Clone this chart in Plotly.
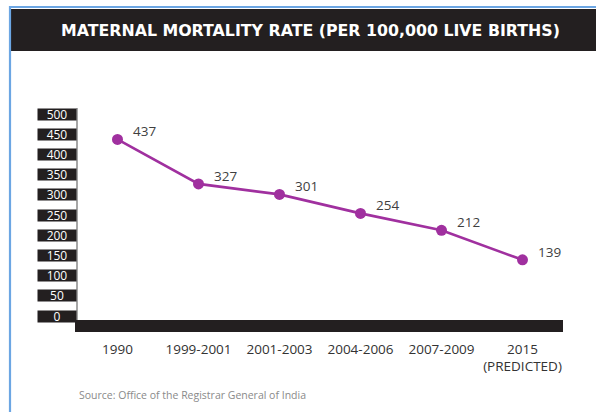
import plotly.graph_objects as go

# ---- data ----
periods = ["1990", "1999-2001", "2001-2003", "2004-2006", "2007-2009", "2015"]
period_labels = ["1990", "1999-2001", "2001-2003", "2004-2006", "2007-2009", "2015<br>(PREDICTED)"]
mmr = [437, 327, 301, 254, 212, 139]
y_ticks = [0, 50, 100, 150, 200, 250, 300, 350, 400, 450, 500]
title_text = "MATERNAL MORTALITY RATE (PER 100,000 LIVE BIRTHS)"
source_text = "Source: Office of the Registrar General of India"

W, H = 596, 412
L, R, T, B = 77, 33, 100, 92
PW, PH = W - L - R, H - T - B


def px(xpix):
    return (xpix - L) / PW


def py(ypix):
    return (H - B - ypix) / PH


PURPLE = "#A0309F"
DARK = "#231F20"
BLUE = "#6CA6E3"

fig = go.Figure()
fig.add_trace(go.Scatter(
    x=list(range(len(periods))), y=mmr, mode="lines+markers",
    line=dict(color=PURPLE, width=2.6),
    marker=dict(color=PURPLE, size=11),
    hoverinfo="skip", showlegend=False,
))

shapes = [
    # blue frame lines
    dict(type="line", xref="paper", yref="paper", x0=px(10), x1=px(10), y0=py(6), y1=py(H + 2),
         line=dict(color=BLUE, width=2.2)),
    dict(type="line", xref="paper", yref="paper", x0=px(9), x1=px(W + 2), y0=py(7), y1=py(7),
         line=dict(color=BLUE, width=2)),
    # title bar
    dict(type="rect", xref="paper", yref="paper", x0=px(11), x1=px(W + 2), y0=py(9), y1=py(51),
         fillcolor=DARK, line=dict(width=0), layer="below"),
    # y axis line
    dict(type="line", xref="paper", yref="paper", x0=0, x1=0, y0=py(320), y1=py(108),
         line=dict(color="#8a8a8a", width=1.5)),
    # thick x axis bar
    dict(type="rect", xref="paper", yref="paper", x0=px(75), x1=px(563), y0=py(320), y1=py(332),
         fillcolor=DARK, line=dict(width=0)),
]

annotations = [
    dict(text=title_text, xref="paper", yref="paper", x=px(310), y=py(30),
         xanchor="center", yanchor="middle", showarrow=False,
         font=dict(family="DejaVu Sans", size=15.8, color="white", weight="bold")),
    dict(text=source_text, xref="paper", yref="paper", x=px(77), y=py(395),
         xanchor="left", yanchor="middle", showarrow=False,
         font=dict(family="Open Sans", size=10.5, color="#8a8a8a")),
]

for v in y_ticks:
    annotations.append(dict(
        text=str(v), xref="paper", yref="y", x=px(77), y=v,
        xanchor="right", yanchor="middle", showarrow=False,
        width=38, height=11, borderpad=0, bgcolor=DARK, align="center",
        font=dict(family="Open Sans", size=12, color="white"),
    ))

for i, v in enumerate(mmr):
    annotations.append(dict(
        text=str(v), x=i, y=v, xref="x", yref="y",
        xanchor="left", yanchor="middle", xshift=13, yshift=8, showarrow=False,
        font=dict(family="Open Sans", size=13.5, color="#3f3f3f"),
    ))

fig.update_layout(
    width=W, height=H,
    margin=dict(l=L, r=R, t=T, b=B, pad=0),
    paper_bgcolor="white", plot_bgcolor="white",
    shapes=shapes, annotations=annotations,
    xaxis=dict(range=[-0.5, 5.5], showgrid=False, zeroline=False,
               showline=False, ticks="", tickmode="array",
               tickvals=list(range(len(periods))),
               ticktext=period_labels, ticklabelstandoff=19,
               tickfont=dict(family="Open Sans", size=13.5, color="#333333")),
    yaxis=dict(range=[(316 - 320) / 0.404, (316 - 100) / 0.404], showgrid=False,
               zeroline=False, showline=False, showticklabels=False, ticks=""),
)

fig.write_html("out.html")
